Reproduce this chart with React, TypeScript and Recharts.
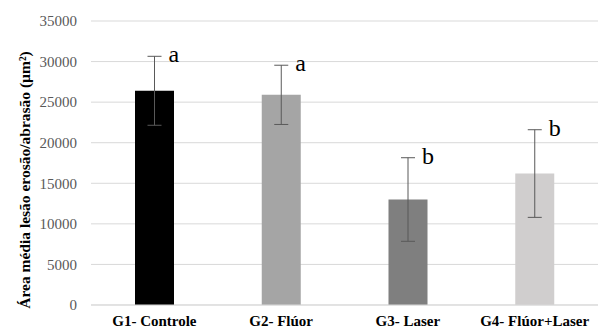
import React from 'react';
import { BarChart, Bar, XAxis, YAxis, CartesianGrid, ErrorBar, LabelList, Cell } from 'recharts';

const groups = ['G1- Controle', 'G2- Flúor', 'G3- Laser', 'G4- Flúor+Laser'];
const means = [26400, 25900, 13000, 16200];
const errors = [4250, 3650, 5150, 5400];
const letters = ['a', 'a', 'b', 'b'];
const colors = ['#000000', '#a5a5a5', '#7f7f7f', '#d0cece'];
const yTicks = [0, 5000, 10000, 15000, 20000, 25000, 30000, 35000];

const data = groups.map((g, i) => ({ name: g, mean: means[i], err: errors[i], letter: letters[i] }));

const serif = 'Liberation Serif';

const LetterLabel = (props: any) => {
  const { x, y, width, height, index, value } = props;
  const pxPerUnit = height / means[index];
  const errTop = y - errors[index] * pxPerUnit;
  return (
    <text x={x + width / 2 + 14} y={errTop + 6} style={{ fontFamily: serif, fontSize: 24 }} fill="#000">
      {value}
    </text>
  );
};

const YTitle = () => (
  <text
    x={24}
    y={180}
    transform="rotate(-90, 24, 180)"
    textAnchor="middle"
    dominantBaseline="central"
    style={{ fontFamily: serif, fontSize: 15.5, fontWeight: 'bold' }}
    fill="#000"
  >
    Área média lesão erosão/abrasão (µm²)
  </text>
);

export default function App() {
  return (
    <div style={{ position: 'absolute', left: 0, top: 0, background: '#fff', fontFamily: serif }}>
      <BarChart width={598} height={329} data={data} margin={{ top: 21, right: 0, bottom: 0, left: 0 }} style={{ fontFamily: serif }}>
        <CartesianGrid vertical={false} stroke="#d9d9d9" />
        <XAxis
          dataKey="name"
          height={24}
          tickLine={false}
          axisLine={{ stroke: '#d9d9d9' }}
          tickMargin={4}
          tick={{ fontFamily: serif, fontSize: 15, fontWeight: 'bold', fill: '#000' }}
        />
        <YAxis
          width={91}
          domain={[0, 35000]}
          ticks={yTicks}
          tickLine={false}
          axisLine={false}
          tickMargin={8}
          interval={0}
          tick={{ fontFamily: serif, fontSize: 15, fill: '#595959' }}
          label={{ content: () => <YTitle /> }}
        />
        <Bar dataKey="mean" barSize={39} isAnimationActive={false}>
          {data.map((d, i) => (
            <Cell key={d.name} fill={colors[i]} />
          ))}
          <ErrorBar dataKey="err" width={7} stroke="#595959" strokeWidth={1} />
          <LabelList dataKey="letter" content={<LetterLabel />} />
        </Bar>
      </BarChart>
    </div>
  );
}
